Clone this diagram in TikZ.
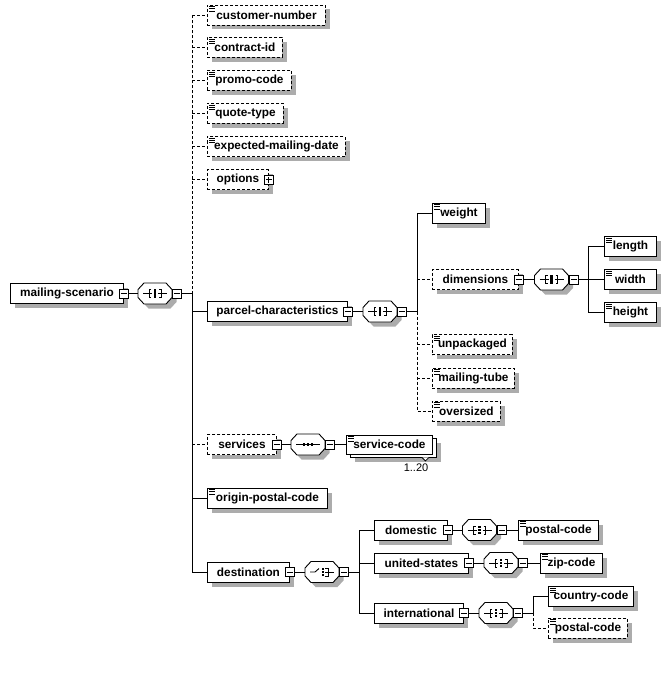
\documentclass[tikz,border=0pt]{standalone}
\usepackage{fontspec}
\setmainfont{Liberation Sans}
\usepackage{tikz}
\usetikzlibrary{calc}
\definecolor{shadowgray}{RGB}{172,172,172}

\tikzset{
  box/.style={draw, fill=white, anchor=west, minimum height=20, inner sep=0pt,
    font=\bfseries\fontsize{11.8}{13}\selectfont},
  shadowed/.style={preaction={fill=shadowgray, draw=none, transform canvas={xshift=4.5pt, yshift=-4.5pt}}},
  elem/.style={box, shadowed},
  doc/.style={path picture={
    \foreach \d in {1.6,3.8,6} \draw[solid, line width=0.9pt]
      ([shift={(2,\d)}]path picture bounding box.north west) -- ++(6,0);}},
  optional/.style={dash pattern=on 3pt off 2pt},
  comp/.style={minimum width=34, minimum height=21, inner sep=0pt},
  minus/.style={draw, fill=white, minimum size=9, inner sep=0pt, path picture={
    \draw[solid] ([xshift=1.5pt]path picture bounding box.west) -- ([xshift=-1.5pt]path picture bounding box.east);}},
  plus/.style={draw, fill=white, minimum size=9, inner sep=0pt, path picture={
    \draw[solid] ([xshift=1.5pt]path picture bounding box.west) -- ([xshift=-1.5pt]path picture bounding box.east);
    \draw[solid] ([yshift=1.5pt]path picture bounding box.south) -- ([yshift=-1.5pt]path picture bounding box.north);}},
  pics/octbox/.style={code={
    \fill[shadowgray, shift={(4.5,4.5)}] (-17,-4) -- (-11,-10.5) -- (11,-10.5) -- (17,-4)
      -- (17,4) -- (11,10.5) -- (-11,10.5) -- (-17,4) -- cycle;
    \draw[fill=white] (-17,-4) -- (-11,-10.5) -- (11,-10.5) -- (17,-4)
      -- (17,4) -- (11,10.5) -- (-11,10.5) -- (-17,4) -- cycle;}},
  pics/allicon/.style={code={
    \pic {octbox};
    \draw (-12,0) -- (-3,0) (3,0) -- (12,0);
    \draw (-4,-4) -- (-6,-4) -- (-6,4) -- (-4,4);
    \draw (4,-4) -- (6,-4) -- (6,4) -- (4,4);
    \foreach \y in {-3,0,3} \fill (-1.2,\y-1.2) rectangle (1.2,\y+1.2);}},
  pics/seqicon/.style={code={
    \pic {octbox};
    \draw (-12,0) -- (12,0);
    \foreach \x in {-4,0,4} \fill (\x-1.3,-1.3) rectangle (\x+1.3,1.3);}},
  pics/choiceicon/.style={code={
    \pic {octbox};
    \draw (-12,0) -- (-7,0) -- (-3,-3.5);
    \draw (3,-4) -- (6,-4) -- (6,4) -- (3,4) (3,0) -- (12,0);
    \foreach \y in {-3,0,3} \fill (-0.2,\y-1.2) rectangle (2.2,\y+1.2);}},
}

\begin{document}
\begin{tikzpicture}[x=1pt, y=-1pt, line width=0.9pt]
  \useasboundingbox (0,0) rectangle (669,674);

  \node[elem, minimum width=113] (scen) at (10,293.5) {mailing-scenario};
  \node[minus] (scen-x) at (scen.east) {};
  \node[comp] (c0) at (155,293.5) {};
  \pic at (c0) {allicon};
  \node[minus, anchor=west] (c0-x) at (c0.east) {};
  \coordinate (t0) at ([xshift=10pt]c0-x.east);
  \draw (scen-x) -- (c0);
  \draw (c0-x.east) -- (t0);

  \node[elem, doc, optional, minimum width=118] (cust) at (207,15) {customer-number};
  \node[elem, doc, optional, minimum width=75] (cid) at (207,47.5) {contract-id};
  \node[elem, doc, optional, minimum width=84] (promo) at (207,80.5) {promo-code};
  \node[elem, doc, optional, minimum width=76] (qtype) at (207,113.5) {quote-type};
  \node[elem, doc, optional, minimum width=138] (emd) at (207,146.5) {expected-mailing-date};
  \node[elem, optional, minimum width=61] (optn) at (207,179.5) {options};
  \node[plus] (optn-x) at (optn.east) {};
  \node[elem, minimum width=140] (parc) at (207,311.5) {parcel-characteristics};
  \node[minus] (parc-x) at (parc.east) {};
  \node[elem, optional, minimum width=69] (srv) at (207,444.5) {services};
  \node[minus] (srv-x) at (srv.east) {};
  \node[elem, doc, minimum width=120] (opc) at (207,498) {origin-postal-code};
  \node[elem, minimum width=82] (dst) at (207,572) {destination};
  \node[minus] (dst-x) at (dst.east) {};

  \draw[optional] (t0) -- (t0 |- cust.west);
  \draw (t0) |- (dst.west);
  \foreach \n in {cust, cid, promo, qtype, emd, optn, srv}
    \draw[optional] (t0 |- \n.west) -- (\n.west);
  \foreach \n in {parc, opc}
    \draw (t0 |- \n.west) -- (\n.west);

  % parcel-characteristics
  \node[comp] (c1) at (380,311.5) {};
  \pic at (c1) {allicon};
  \node[minus, anchor=west] (c1-x) at (c1.east) {};
  \coordinate (t1) at ([xshift=10pt]c1-x.east);
  \draw (parc-x) -- (c1);
  \draw (c1-x.east) -- (t1);

  \node[elem, doc, minimum width=53] (wt) at (432,213) {weight};
  \node[elem, optional, minimum width=86] (dim) at (432,279.5) {dimensions};
  \node[minus] (dim-x) at (dim.east) {};
  \node[elem, doc, optional, minimum width=80] (unp) at (432,344.5) {unpackaged};
  \node[elem, doc, optional, minimum width=82] (tube) at (432,378) {mailing-tube};
  \node[elem, doc, optional, minimum width=68] (ovs) at (432,411) {oversized};

  \draw (wt.west) -| (t1);
  \draw[optional] (t1) |- (ovs.west);
  \foreach \n in {dim, unp, tube}
    \draw[optional] (t1 |- \n.west) -- (\n.west);

  \node[comp] (c2) at (551.5,279.5) {};
  \pic at (c2) {allicon};
  \node[minus, anchor=west] (c2-x) at (c2.east) {};
  \coordinate (t2) at ([xshift=10pt]c2-x.east);
  \draw (dim-x) -- (c2);
  \draw (c2-x.east) -- (t2);

  \node[elem, doc, minimum width=52] (len) at (604,246.5) {length};
  \node[elem, doc, minimum width=52] (wid) at (604,279.5) {width};
  \node[elem, doc, minimum width=52] (hgt) at (604,312.5) {height};
  \draw (len.west) -| (t2) |- (hgt.west);
  \draw (t2) -- (wid.west);

  % services
  \node[comp] (c3) at (308,444.5) {};
  \pic at (c3) {seqicon};
  \node[minus, anchor=west] (c3-x) at (c3.east) {};
  \node[elem, minimum width=86, minimum height=19] (sc-b) at (350,447.5) {};
  \node[box, doc, minimum width=86, minimum height=19] (sc) at (346,444.5) {service-code};
  \draw[fill=white, line width=0.8pt] ([xshift=-15pt]sc-b.south east) -- ++(3.5,3.5) -- ++(3.5,-3.5);
  \node[font=\fontsize{11}{13}\selectfont] (sc-m) at (416,467.5) {1..20};
  \draw (srv-x) -- (c3);
  \draw (c3-x) -- (sc);

  % destination
  \node[comp] (c4) at (322,572) {};
  \pic at (c4) {choiceicon};
  \node[minus, anchor=west] (c4-x) at (c4.east) {};
  \coordinate (t3) at ([xshift=10pt]c4-x.east);
  \draw (dst-x) -- (c4);
  \draw (c4-x.east) -- (t3);

  \node[elem, minimum width=73] (dom) at (374,530) {domestic};
  \node[minus] (dom-x) at (dom.east) {};
  \node[elem, minimum width=94] (us) at (374,563) {united-states};
  \node[minus] (us-x) at (us.east) {};
  \node[elem, minimum width=89] (intl) at (374,613) {international};
  \node[minus] (intl-x) at (intl.east) {};
  \draw (dom.west) -| (t3) |- (intl.west);
  \draw (t3 |- us.west) -- (us.west);

  \node[comp] (c5) at (479.5,530) {};
  \pic at (c5) {allicon};
  \node[minus, anchor=west] (c5-x) at (c5.east) {};
  \node[elem, doc, minimum width=80] (dpc) at (518,530) {postal-code};
  \draw (dom-x) -- (c5);
  \draw (c5-x) -- (dpc);

  \node[comp] (c6) at (501,563) {};
  \pic at (c6) {allicon};
  \node[minus, anchor=west] (c6-x) at (c6.east) {};
  \node[elem, doc, minimum width=62] (zip) at (540,563) {zip-code};
  \draw (us-x) -- (c6);
  \draw (c6-x) -- (zip);

  \node[comp] (c7) at (496,613) {};
  \pic at (c7) {allicon};
  \node[minus, anchor=west] (c7-x) at (c7.east) {};
  \coordinate (t4) at ([xshift=10pt]c7-x.east);
  \draw (intl-x) -- (c7);
  \draw (c7-x.east) -- (t4);

  \node[elem, doc, minimum width=85] (cc) at (548,596.5) {country-code};
  \node[elem, doc, optional, minimum width=79] (ipc) at (548,628) {postal-code};
  \draw (cc.west) -| (t4);
  \draw[optional] (t4) |- (ipc.west);
\end{tikzpicture}
\end{document}
